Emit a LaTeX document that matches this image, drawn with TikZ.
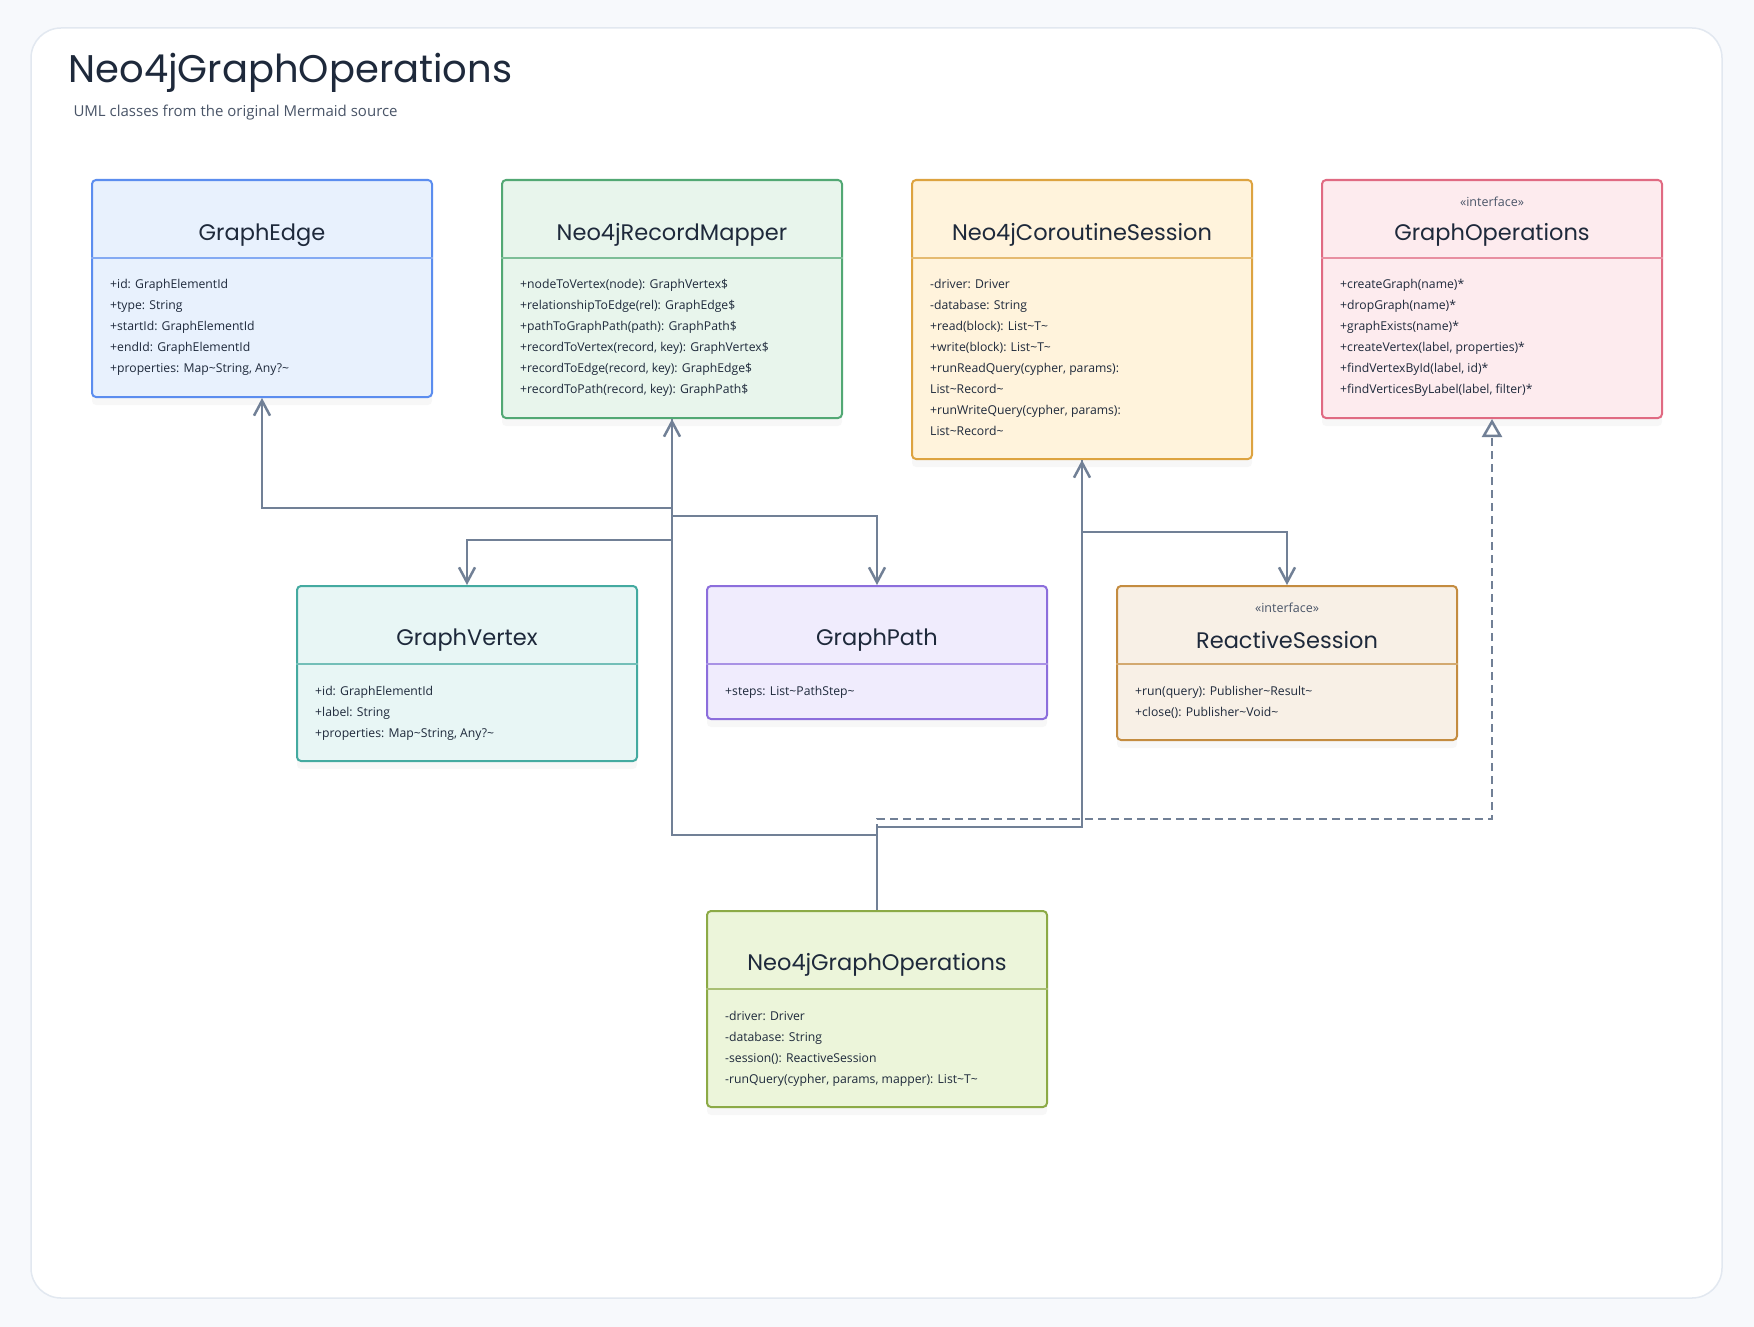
\documentclass[tikz,border=0pt]{standalone}
\usepackage{fontspec}
\setmainfont{Open Sans}
\newfontfamily\headfont{Poppins}
\usepackage{xcolor}
\usetikzlibrary{arrows.meta,positioning,calc,shadows}

\definecolor{pagebg}{HTML}{F7F9FC}
\definecolor{framebd}{HTML}{E2E8F0}
\definecolor{ink}{HTML}{1E293B}
\definecolor{subink}{HTML}{4A5568}
\definecolor{wire}{HTML}{718096}
\definecolor{edgebd}{HTML}{5B8DEF}
\definecolor{edgebg}{HTML}{E8F1FD}
\definecolor{mapbd}{HTML}{52A874}
\definecolor{mapbg}{HTML}{E8F5EC}
\definecolor{sessbd}{HTML}{DDA340}
\definecolor{sessbg}{HTML}{FFF3DC}
\definecolor{opsbd}{HTML}{E06A82}
\definecolor{opsbg}{HTML}{FDEBEE}
\definecolor{vertbd}{HTML}{44AAA0}
\definecolor{vertbg}{HTML}{E8F6F5}
\definecolor{pathbd}{HTML}{8C6EDC}
\definecolor{pathbg}{HTML}{F0ECFD}
\definecolor{reactbd}{HTML}{C48C40}
\definecolor{reactbg}{HTML}{F8F0E6}
\definecolor{ngobd}{HTML}{8CAA46}
\definecolor{ngobg}{HTML}{ECF5DA}

\newcommand{\tild}{\textasciitilde}

\begin{document}
\begin{tikzpicture}[
  x=1pt, y=-1pt,
  classbox/.style 2 args={
    rectangle,
    rounded corners=4pt,
    line width=2pt,
    draw=#1,
    fill=#2,
    minimum width=340pt,
    inner sep=0pt,
    drop shadow={shadow xshift=0pt, shadow yshift=-8pt, opacity=0.06}
  },
  classname/.style={font=\headfont\fontsize{22.5}{26}\selectfont, text=ink},
  stereo/.style={font=\fontsize{12.5}{14}\selectfont, text=subink},
  members/.style={
    anchor=north west,
    align=left,
    inner sep=0pt,
    font=\fontsize{12.2}{21}\selectfont,
    text=ink
  },
  assoc/.style={draw=wire, line width=2pt,
    -{Straight Barb[length=15pt, width=16pt, line width=2.5pt]}},
  realize/.style={draw=wire, line width=2pt, dash pattern=on 8pt off 5pt,
    -{Triangle[open, length=18pt, width=20pt, line width=2.5pt, fill=white]}}
]
  \useasboundingbox (0,0) rectangle (1754,1327);
  \fill[pagebg] (0,0) rectangle (1754,1327);
  \draw[framebd, line width=1.5pt, fill=white, rounded corners=30pt] (31,28) rectangle (1722,1298);

  \node[anchor=base west, font=\headfont\fontsize{38.5}{44}\selectfont, text=ink] (title) at (65,83) {Neo4jGraphOperations};
  \node[anchor=base west, font=\fontsize{15}{18}\selectfont, text=subink] (subtitle) at (70,117) {UML classes from the original Mermaid source};

  % top row
  \node[classbox={edgebd}{edgebg}, minimum height=217pt] (edge) at (262,288.5) {};
  \node[classbox={mapbd}{mapbg}, minimum height=238pt] (mapper) at (672,299) {};
  \node[classbox={sessbd}{sessbg}, minimum height=279pt] (session) at (1082,319.5) {};
  \node[classbox={opsbd}{opsbg}, minimum height=238pt] (graphops) at (1492,299) {};

  % middle row
  \node[classbox={vertbd}{vertbg}, minimum height=175pt] (vertex) at (467,673.5) {};
  \node[classbox={pathbd}{pathbg}, minimum height=133pt] (path) at (877,652.5) {};
  \node[classbox={reactbd}{reactbg}, minimum height=154pt] (reactive) at (1287,663) {};

  % bottom
  \node[classbox={ngobd}{ngobg}, minimum height=196pt] (ngo) at (877,1009) {};

  % header dividers
  \draw[edgebd!75, line width=2pt] (edge.west |- 0,258) -- (edge.east |- 0,258);
  \draw[mapbd!75, line width=2pt] (mapper.west |- 0,258) -- (mapper.east |- 0,258);
  \draw[sessbd!75, line width=2pt] (session.west |- 0,258) -- (session.east |- 0,258);
  \draw[opsbd!75, line width=2pt] (graphops.west |- 0,258) -- (graphops.east |- 0,258);
  \draw[vertbd!75, line width=2pt] (vertex.west |- 0,664) -- (vertex.east |- 0,664);
  \draw[pathbd!75, line width=2pt] (path.west |- 0,664) -- (path.east |- 0,664);
  \draw[reactbd!75, line width=2pt] (reactive.west |- 0,664) -- (reactive.east |- 0,664);
  \draw[ngobd!75, line width=2pt] (ngo.west |- 0,989) -- (ngo.east |- 0,989);

  % class names
  \node[classname] (edge-name) at (262,235) {GraphEdge};
  \node[classname] (mapper-name) at (672,235) {Neo4jRecordMapper};
  \node[classname] (session-name) at (1082,235) {Neo4jCoroutineSession};
  \node[stereo] (graphops-kind) at (1492,202) {«interface»};
  \node[classname] (graphops-name) at (1492,235) {GraphOperations};
  \node[classname] (vertex-name) at (467,640) {GraphVertex};
  \node[classname] (path-name) at (877,640) {GraphPath};
  \node[stereo] (reactive-kind) at (1287,608) {«interface»};
  \node[classname] (reactive-name) at (1287,640) {ReactiveSession};
  \node[classname] (ngo-name) at (877,965) {Neo4jGraphOperations};

  % members
  \node[members] (edge-body) at (110,279) {+id: GraphElementId\\+type: String\\+startId: GraphElementId\\+endId: GraphElementId\\+properties: Map\tild String, Any?\tild};
  \node[members] (mapper-body) at (520,279) {+nodeToVertex(node): GraphVertex\$\\+relationshipToEdge(rel): GraphEdge\$\\+pathToGraphPath(path): GraphPath\$\\+recordToVertex(record, key): GraphVertex\$\\+recordToEdge(record, key): GraphEdge\$\\+recordToPath(record, key): GraphPath\$};
  \node[members] (session-body) at (930,279) {-driver: Driver\\-database: String\\+read(block): List\tild T\tild\\+write(block): List\tild T\tild\\+runReadQuery(cypher, params):\\List\tild Record\tild\\+runWriteQuery(cypher, params):\\List\tild Record\tild};
  \node[members] (graphops-body) at (1340,279) {+createGraph(name)*\\+dropGraph(name)*\\+graphExists(name)*\\+createVertex(label, properties)*\\+findVertexById(label, id)*\\+findVerticesByLabel(label, filter)*};
  \node[members] (vertex-body) at (315,686) {+id: GraphElementId\\+label: String\\+properties: Map\tild String, Any?\tild};
  \node[members] (path-body) at (725,686) {+steps: List\tild PathStep\tild};
  \node[members] (reactive-body) at (1135,686) {+run(query): Publisher\tild Result\tild\\+close(): Publisher\tild Void\tild};
  \node[members] (ngo-body) at (725,1011) {-driver: Driver\\-database: String\\-session(): ReactiveSession\\-runQuery(cypher, params, mapper): List\tild T\tild};

  % relations
  \draw[realize] (ngo.north) -- ++(0,-91) -| (graphops.south);
  \draw[assoc] (mapper.south) -- ++(0,89) -| (edge.south);
  \draw[assoc] (mapper.south) -- ++(0,97) -| (path.north);
  \draw[assoc] (mapper.south) -- ++(0,121) -| (vertex.north);
  \draw[assoc] (ngo.north) -- ++(0,-75) -| (mapper.south);
  \draw[assoc] (ngo.north) -- ++(0,-83) -| (session.south);
  \draw[assoc] (session.south) -- ++(0,72) -| (reactive.north);
\end{tikzpicture}
\end{document}
